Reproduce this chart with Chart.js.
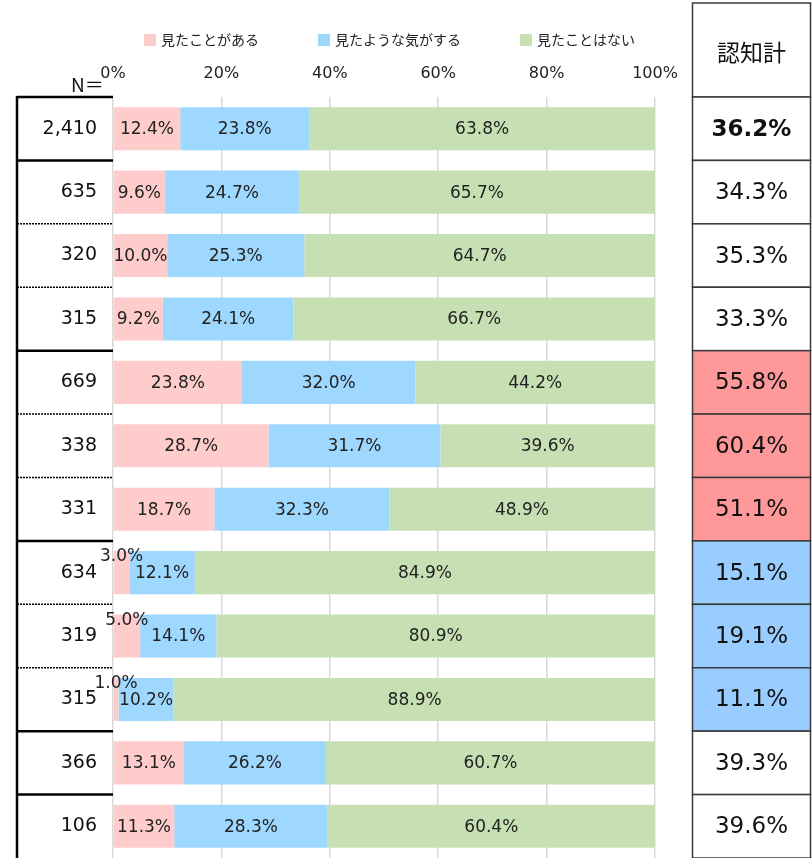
<!DOCTYPE html>
<html>
<head>
<meta charset="utf-8">
<script src="https://cdn.jsdelivr.net/npm/chart.js@4/dist/chart.umd.min.js"></script>
<style>
  html, body { margin: 0; padding: 0; background: #fff; }
  #wrap { width: 812px; height: 858px; }
</style>
</head>
<body>
<div id="wrap"><canvas id="awareChart" width="812" height="858"></canvas></div>
<script>
// sample sizes (row labels) and the three answer shares, in %
var nCounts = ['2,410', '635', '320', '315', '669', '338', '331', '634', '319', '315', '366', '106'];
var seenIt  = [12.4, 9.6, 10.0, 9.2, 23.8, 28.7, 18.7, 3.0, 5.0, 1.0, 13.1, 11.3];
var maybe   = [23.8, 24.7, 25.3, 24.1, 32.0, 31.7, 32.3, 12.1, 14.1, 10.2, 26.2, 28.3];
var never   = [63.8, 65.7, 64.7, 66.7, 44.2, 39.6, 48.9, 84.9, 80.9, 88.9, 60.7, 60.4];
// 認知計 column
var awareTotal = [36.2, 34.3, 35.3, 33.3, 55.8, 60.4, 51.1, 15.1, 19.1, 11.1, 39.3, 39.6];
var seriesNames = ['見たことがある', '見たような気がする', '見たことはない'];
var xTicks = [0, 20, 40, 60, 80, 100];

var NUM_FONT = "'DejaVu Sans', 'Noto Sans CJK JP', sans-serif";
var JP_FONT = "'Noto Sans CJK JP', sans-serif";
var colors = ['#FFCCCC', '#9FD8FF', '#C6E0B4'];

// row separators in the N column: solid between groups, dotted inside
var rowLine = ['solid', 'solid', 'dot', 'dot', 'solid', 'dot', 'dot', 'solid', 'dot', 'dot', 'solid', 'solid'];
// background of the 認知計 cells
var cellFill = ['#fff', '#fff', '#fff', '#fff', '#FF9999', '#FF9999', '#FF9999', '#99CCFF', '#99CCFF', '#99CCFF', '#fff', '#fff'];

var sideTable = {
  id: 'sideTable',
  afterDraw: function (chart) {
    var ctx = chart.ctx;
    var y = chart.scales.y;
    var area = chart.chartArea;
    var step = y.getPixelForValue(1) - y.getPixelForValue(0);
    ctx.save();

    // legend
    ctx.font = '14px ' + JP_FONT;
    ctx.textBaseline = 'middle';
    ctx.textAlign = 'left';
    var lx = 144;
    chart.data.datasets.forEach(function (ds) {
      ctx.fillStyle = ds.backgroundColor;
      ctx.fillRect(lx, 34, 12, 12);
      ctx.fillStyle = '#222';
      ctx.fillText(ds.label, lx + 17, 40);
      lx += 17 + ctx.measureText(ds.label).width + 59;
    });

    // N= caption
    ctx.font = '19px ' + JP_FONT;
    ctx.fillStyle = '#111';
    ctx.fillText('N＝', 71, 85);

    // N column borders
    var left = 17, right = area.left;
    ctx.strokeStyle = '#000';
    for (var i = 0; i < nCounts.length; i++) {
      var top = y.getPixelForValue(i) - step / 2;
      ctx.beginPath();
      if (rowLine[i] === 'solid') {
        ctx.lineWidth = 2.5;
        ctx.setLineDash([]);
      } else {
        ctx.lineWidth = 1.5;
        ctx.setLineDash([2, 1]);
      }
      ctx.moveTo(left, top);
      ctx.lineTo(right, top);
      ctx.stroke();
    }
    ctx.setLineDash([]);
    ctx.lineWidth = 2.5;
    ctx.beginPath();
    ctx.moveTo(left, area.top - 1);
    ctx.lineTo(left, area.bottom);
    ctx.stroke();

    // 認知計 column
    var cx0 = 692.5, cx1 = 810.5;
    ctx.lineWidth = 1.5;
    ctx.strokeStyle = '#3a3a3a';
    ctx.strokeRect(cx0, 3, cx1 - cx0, area.top - 3);
    ctx.fillStyle = '#111';
    ctx.font = '23px ' + JP_FONT;
    ctx.textAlign = 'center';
    ctx.fillText('認知計', (cx0 + cx1) / 2, 52);
    for (var r = 0; r < awareTotal.length; r++) {
      var cy = y.getPixelForValue(r);
      var t = cy - step / 2;
      ctx.fillStyle = cellFill[r];
      ctx.fillRect(cx0, t, cx1 - cx0, step);
      ctx.strokeRect(cx0, t, cx1 - cx0, step);
      ctx.fillStyle = '#111';
      ctx.font = (r === 0 ? 'bold ' : '') + '23px ' + NUM_FONT;
      ctx.fillText(awareTotal[r].toFixed(1) + '%', (cx0 + cx1) / 2, cy + 1);
    }

    // value labels on the bars
    ctx.font = '17px ' + NUM_FONT;
    ctx.fillStyle = '#222';
    ctx.textAlign = 'center';
    chart.data.datasets.forEach(function (ds, di) {
      var meta = chart.getDatasetMeta(di);
      meta.data.forEach(function (bar, k) {
        var v = ds.data[k];
        var mid = (bar.x + bar.base) / 2;
        if (v < 6) {
          ctx.fillText(v.toFixed(1) + '%', mid, bar.y - bar.height / 2 + 6);
        } else {
          ctx.fillText(v.toFixed(1) + '%', mid, bar.y + 1);
        }
      });
    });
    ctx.restore();
  }
};

var ctx = document.getElementById('awareChart').getContext('2d');
var awareChart = new Chart(ctx, {
  type: 'bar',
  data: {
    labels: nCounts,
    datasets: [
      { label: seriesNames[0], data: seenIt, backgroundColor: colors[0] },
      { label: seriesNames[1], data: maybe, backgroundColor: colors[1] },
      { label: seriesNames[2], data: never, backgroundColor: colors[2] }
    ]
  },
  options: {
    indexAxis: 'y',
    responsive: false,
    animation: false,
    devicePixelRatio: 1,
    categoryPercentage: 1,
    barPercentage: 0.68,
    layout: { autoPadding: false, padding: { left: 0, right: 157, top: 0, bottom: 0 } },
    scales: {
      x: {
        position: 'top',
        stacked: true,
        min: 0,
        max: 100,
        afterBuildTicks: function (s) { s.ticks = xTicks.map(function (v) { return { value: v }; }); },
        afterFit: function (s) { s.height = 97; },
        ticks: {
          padding: 14,
          maxRotation: 0,
          color: '#222',
          font: { family: NUM_FONT, size: 16 },
          callback: function (v) { return v + '%'; }
        },
        grid: { color: '#D9D9D9', lineWidth: 1.5, drawTicks: false },
        border: { display: false }
      },
      y: {
        stacked: true,
        afterFit: function (s) {
          s.width = 113;
          s.paddingTop = 0;
          s.paddingBottom = 0;
        },
        ticks: { padding: 16, color: '#111', font: { family: NUM_FONT, size: 19 } },
        grid: { display: false, drawTicks: false },
        border: { display: false }
      }
    },
    plugins: {
      legend: { display: false },
      tooltip: { enabled: false }
    }
  },
  plugins: [sideTable]
});
</script>
</body>
</html>
